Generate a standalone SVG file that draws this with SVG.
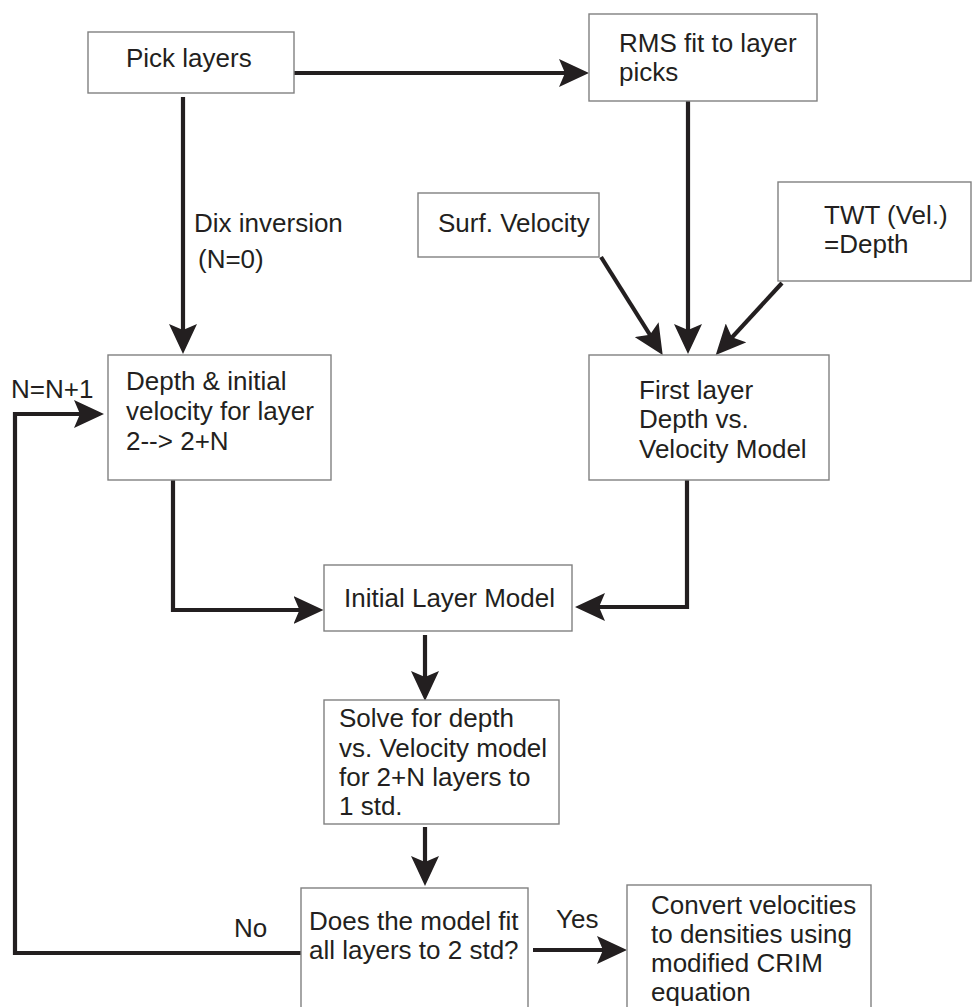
<svg xmlns="http://www.w3.org/2000/svg" width="972" height="1007" viewBox="0 0 972 1007">
<style>
.box{fill:#fff;stroke:#808080;stroke-width:1.4}
.t{font-family:"Liberation Sans",Arial,sans-serif;font-size:26px;fill:#231f20}
.c{fill:none;stroke:#231f20;stroke-width:4.2}
</style>
<defs>
<marker id="ah" viewBox="0 0 30 28" refX="24" refY="14" markerWidth="30" markerHeight="28" markerUnits="userSpaceOnUse" orient="auto">
<path d="M0,0 L30,14 L0,28 L6,14 Z" fill="#231f20"/>
</marker>
</defs>
<rect width="972" height="1007" fill="#fff"/>
<g id="connectors">
<path class="c" d="M294,73 H583" marker-end="url(#ah)"/>
<path class="c" d="M183,97 V348" marker-end="url(#ah)"/>
<path class="c" d="M688,101 V348" marker-end="url(#ah)"/>
<path class="c" d="M601,257 L659.5,350" marker-end="url(#ah)"/>
<path class="c" d="M782,283 L719.8,350.6" marker-end="url(#ah)"/>
<path class="c" d="M173,480 V610 H317.5" marker-end="url(#ah)"/>
<path class="c" d="M687,480 V607 H581" marker-end="url(#ah)"/>
<path class="c" d="M425,635 V695" marker-end="url(#ah)"/>
<path class="c" d="M425,827 V880" marker-end="url(#ah)"/>
<path class="c" d="M533,950 H621" marker-end="url(#ah)"/>
<path class="c" d="M301,953 H15 V414 H98" marker-end="url(#ah)"/>
<text class="t" x="194" y="232">Dix inversion</text>
<text class="t" x="198" y="268">(N=0)</text>
<text class="t" x="11" y="398">N=N+1</text>
<text class="t" x="234" y="937">No</text>
<text class="t" x="556" y="928">Yes</text>
</g>
<g id="pick">
<rect class="box" x="88" y="32" width="206" height="61"/>
<text class="t" x="126" y="67">Pick layers</text>
</g>
<g id="rms">
<rect class="box" x="589" y="14" width="228" height="87"/>
<text class="t" x="619" y="52">RMS fit to layer</text>
<text class="t" x="619" y="81">picks</text>
</g>
<g id="surf">
<rect class="box" x="418" y="193" width="181" height="64"/>
<text class="t" x="438" y="232">Surf. Velocity</text>
</g>
<g id="twt">
<rect class="box" x="778" y="182" width="193" height="99"/>
<text class="t" x="824" y="224">TWT (Vel.)</text>
<text class="t" x="824" y="253">=Depth</text>
</g>
<g id="depth">
<rect class="box" x="108" y="355" width="223" height="125"/>
<text class="t" x="126" y="390">Depth &amp; initial</text>
<text class="t" x="126" y="420">velocity for layer</text>
<text class="t" x="126" y="450">2--&gt; 2+N</text>
</g>
<g id="first">
<rect class="box" x="589" y="355" width="240" height="125"/>
<text class="t" x="639" y="399">First layer</text>
<text class="t" x="639" y="428">Depth vs.</text>
<text class="t" x="639" y="458">Velocity Model</text>
</g>
<g id="initial">
<rect class="box" x="324" y="565" width="248" height="66"/>
<text class="t" x="344" y="607">Initial Layer Model</text>
</g>
<g id="solve">
<rect class="box" x="324" y="700" width="235" height="124"/>
<text class="t" x="339" y="727">Solve for depth</text>
<text class="t" x="339" y="757">vs. Velocity model</text>
<text class="t" x="339" y="786">for 2+N layers to</text>
<text class="t" x="339" y="815">1 std.</text>
</g>
<g id="does">
<rect class="box" x="301" y="888" width="227" height="140"/>
<text class="t" x="309" y="930">Does the model fit</text>
<text class="t" x="309" y="959">all layers to 2 std?</text>
</g>
<g id="convert">
<rect class="box" x="627" y="885" width="244" height="140"/>
<text class="t" x="651" y="914">Convert velocities</text>
<text class="t" x="651" y="943">to densities using</text>
<text class="t" x="651" y="972">modified CRIM</text>
<text class="t" x="651" y="1001">equation</text>
</g>
</svg>
